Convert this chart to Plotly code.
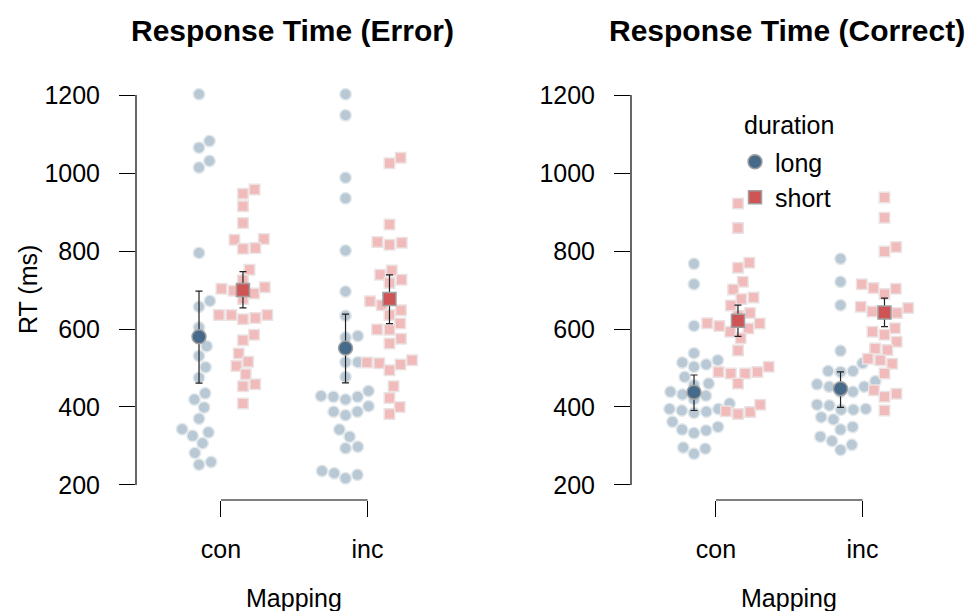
import math
import plotly.graph_objects as go

# ---------------- data (RT in ms) ----------------
mappings = ["con", "inc"]
durations = ["long", "short"]
panel_titles = ["Response Time (Error)", "Response Time (Correct)"]
y_ticks = [200, 400, 600, 800, 1000, 1200]

err_long_con = [1202, 1082, 1065, 1031, 1014, 795, 672, 657, 604, 556, 531, 502, 475, 435,
                419, 399, 370, 343, 326, 335, 307, 282, 252, 259]
err_short_con = [958, 947, 915, 872, 831, 829, 806, 808, 752, 725, 703, 698, 691, 707, 677,
                 636, 636, 625, 628, 636, 585, 571, 537, 516, 505, 484, 453, 458, 409]
err_long_inc = [1202, 1148, 988, 935, 801, 696, 634, 578, 582, 515, 515, 477, 428, 426, 419,
                426, 441, 388, 379, 388, 402, 342, 324, 294, 298, 236, 230, 217, 226]
err_short_inc = [1039, 1025, 868, 823, 816, 821, 739, 750, 726, 718, 671, 661, 648, 636, 614,
                 599, 598, 575, 563, 514, 512, 494, 509, 520, 453, 423, 400, 382]

cor_long_con = [767, 715, 608, 538, 514, 520, 503, 509, 477, 460, 456, 432, 429, 439, 409,
                395, 391, 385, 388, 395, 362, 342, 333, 340, 349, 296, 280, 293, 420]
cor_short_con = [922, 859, 757, 770, 721, 701, 681, 677, 660, 641, 634, 615, 608, 601, 614,
                 593, 576, 545, 503, 490, 486, 486, 490, 460, 389, 382, 387, 406]
cor_long_inc = [780, 721, 661, 544, 512, 492, 492, 490, 458, 452, 439, 439, 452, 466, 406,
                404, 393, 393, 395, 368, 374, 342, 349, 324, 313, 290, 303]
cor_short_inc = [937, 885, 799, 810, 715, 703, 690, 705, 645, 640, 641, 654, 657, 593, 585,
                 602, 567, 546, 550, 524, 520, 511, 486, 443, 426, 434, 391]

# means and 95% CI bounds, order: con, inc
err_long_mean = [580, 551]
err_long_lo = [461, 462]
err_long_hi = [697, 638]
err_short_mean = [700, 677]
err_short_lo = [654, 614]
err_short_hi = [747, 739]

cor_long_mean = [438, 447]
cor_long_lo = [391, 399]
cor_long_hi = [482, 490]
cor_short_mean = [621, 642]
cor_short_lo = [581, 606]
cor_short_hi = [661, 679]

legend_title = "duration"

panels = [
    {"long": [err_long_con, err_long_inc], "short": [err_short_con, err_short_inc],
     "long_mean": err_long_mean, "long_lo": err_long_lo, "long_hi": err_long_hi,
     "short_mean": err_short_mean, "short_lo": err_short_lo, "short_hi": err_short_hi},
    {"long": [cor_long_con, cor_long_inc], "short": [cor_short_con, cor_short_inc],
     "long_mean": cor_long_mean, "long_lo": cor_long_lo, "long_hi": cor_long_hi,
     "short_mean": cor_short_mean, "short_lo": cor_short_lo, "short_hi": cor_short_hi},
]

# ---------------- layout geometry ----------------
W, H = 973, 611
FONT = "Liberation Sans, Arial, Helvetica, sans-serif"
X_RANGE = [0.42, 2.58]
Y_RANGE = [161.5, 1238.5]
x_dom_px = [(136, 452.5), (631, 947.5)]
y_dom_px = (80, 500)  # top, bottom in px
PX_PER_X = (x_dom_px[0][1] - x_dom_px[0][0]) / (X_RANGE[1] - X_RANGE[0])
PX_PER_Y = (y_dom_px[1] - y_dom_px[0]) / (Y_RANGE[1] - Y_RANGE[0])
GROUP_SHIFT = 0.15
SWARM_D = 12.4  # px


def swarm_offsets(vals):
    """beeswarm 'swarm' placement (ascending priority), returns x offsets in data units."""
    order = sorted(range(len(vals)), key=lambda i: vals[i])
    placed = []
    out = [0.0] * len(vals)
    d = SWARM_D
    for i in order:
        y = vals[i] * PX_PER_Y
        near = []
        for (px, py) in placed:
            dy = py - y
            if abs(dy) < d:
                near.append((px, math.sqrt(d * d - dy * dy)))
        cands = [0.0] + [px + w for px, w in near] + [px - w for px, w in near]
        best = None
        for c in cands:
            ok = all(abs(c - px) >= w - 1e-7 for px, w in near)
            if ok and (best is None or abs(c) < abs(best) - 1e-9):
                best = c
        placed.append((best, y))
        out[i] = best / PX_PER_X
    return out


LONG_PT = dict(symbol="circle", size=11.5, color="#b8c9d5", line=dict(color="#e3e8eb", width=1.5))
SHORT_PT = dict(symbol="square", size=10.5, color="#f1babb", line=dict(color="#ece2e2", width=1.5))
LONG_MEAN = dict(symbol="circle", size=14, color="#466b8a", line=dict(color="#a0a0a0", width=1.5))
SHORT_MEAN = dict(symbol="square", size=13, color="#cf5455", line=dict(color="#a0a0a0", width=1.5))

fig = go.Figure()

for p, panel in enumerate(panels):
    xa = "x" if p == 0 else "x2"
    ya = "y" if p == 0 else "y2"
    for dur, shift, style in (("long", -GROUP_SHIFT, LONG_PT), ("short", GROUP_SHIFT, SHORT_PT)):
        for m, vals in enumerate(panel[dur]):
            offs = swarm_offsets(vals)
            xs = [m + 1 + shift + o for o in offs]
            fig.add_trace(go.Scatter(x=xs, y=vals, mode="markers", marker=style,
                                     xaxis=xa, yaxis=ya, showlegend=False, hoverinfo="y"))
    for dur, shift, style in (("long", -GROUP_SHIFT, LONG_MEAN), ("short", GROUP_SHIFT, SHORT_MEAN)):
        means = panel[dur + "_mean"]
        hi = [h - mm for h, mm in zip(panel[dur + "_hi"], means)]
        lo = [mm - l for l, mm in zip(panel[dur + "_lo"], means)]
        xs = [k + 1 + shift for k in range(len(mappings))]
        fig.add_trace(go.Scatter(x=xs, y=means, mode="markers", marker=style,
                                 error_y=dict(type="data", symmetric=False, array=hi, arrayminus=lo,
                                              color="#222222", thickness=1.2, width=3.5),
                                 xaxis=xa, yaxis=ya, showlegend=False))

# legend entries
fig.add_trace(go.Scatter(x=[None], y=[None], mode="markers", name=durations[0], marker=LONG_MEAN,
                         xaxis="x2", yaxis="y2"))
fig.add_trace(go.Scatter(x=[None], y=[None], mode="markers", name=durations[1], marker=SHORT_MEAN,
                         xaxis="x2", yaxis="y2"))

axis_font = dict(family=FONT, size=25, color="black")
layout = dict(
    width=W, height=H, margin=dict(l=0, r=0, t=0, b=0),
    paper_bgcolor="white", plot_bgcolor="white",
    font=dict(family=FONT, color="black", size=25),
    legend=dict(x=735 / W, y=1 - 139 / H, xanchor="left", yanchor="top",
                bgcolor="rgba(0,0,0,0)", font=dict(family=FONT, size=25),
                itemwidth=30, tracegroupgap=0),
    shapes=[], annotations=[],
)
ydom = [1 - y_dom_px[1] / H, 1 - y_dom_px[0] / H]
for p in range(2):
    sx = "" if p == 0 else "2"
    layout["xaxis" + sx] = dict(
        domain=[x_dom_px[p][0] / W, x_dom_px[p][1] / W], range=X_RANGE, anchor="y" + sx,
        tickvals=[1, 2], ticktext=mappings, ticks="outside", ticklen=16, tickwidth=1.2,
        tickcolor="black", showline=False, showgrid=False, zeroline=False,
        tickfont=axis_font, ticklabelstandoff=11, fixedrange=True)
    layout["yaxis" + sx] = dict(
        domain=ydom, range=Y_RANGE, anchor="x" + sx,
        tickvals=y_ticks, ticktext=[str(t) for t in y_ticks], ticks="outside", ticklen=16,
        tickwidth=1.2, tickcolor="black", showline=False, showgrid=False, zeroline=False,
        tickfont=axis_font, ticklabelstandoff=14, fixedrange=True)
    layout["shapes"].append(dict(type="line", xref="x" + sx + " domain", yref="y" + sx,
                                 x0=0, x1=0, y0=y_ticks[0], y1=y_ticks[-1],
                                 line=dict(color="black", width=1.2)))
    layout["shapes"].append(dict(type="line", xref="x" + sx, yref="y" + sx + " domain",
                                 x0=1, x1=2, y0=0, y1=0,
                                 line=dict(color="black", width=1.2)))
    cx = (x_dom_px[p][0] + x_dom_px[p][1]) / 2
    layout["annotations"].append(dict(text="<b>" + panel_titles[p] + "</b>", x=(cx - 2) / W, y=1 - 30 / H,
                                      xref="paper", yref="paper", showarrow=False,
                                      xanchor="center", yanchor="middle",
                                      font=dict(family=FONT, size=30, color="black")))
    layout["annotations"].append(dict(text="Mapping", x=cx / W, y=1 - 598 / H,
                                      xref="paper", yref="paper", showarrow=False,
                                      xanchor="center", yanchor="middle", font=axis_font))
layout["annotations"].append(dict(text="RT (ms)", x=28 / W, y=1 - 290 / H, xref="paper", yref="paper",
                                  showarrow=False, textangle=-90, xanchor="center",
                                  yanchor="middle", font=axis_font))
layout["annotations"].append(dict(text=legend_title, x=789 / W, y=1 - 125 / H, xref="paper", yref="paper",
                                  showarrow=False, xanchor="center", yanchor="middle", font=axis_font))

fig.update_layout(**layout)
fig.write_html("out.html")
